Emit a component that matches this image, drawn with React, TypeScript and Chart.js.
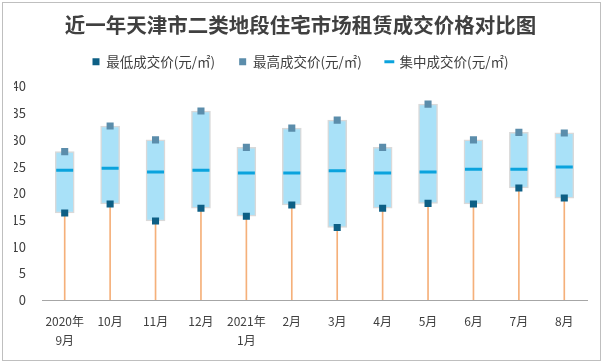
import React, { useEffect, useRef } from 'react';
import { Chart, registerables } from 'chart.js';

Chart.register(...registerables);

const categories: (string | string[])[] = [
  ['2020年', '9月'], '10月', '11月', '12月', ['2021年', '1月'], '2月', '3月', '4月', '5月', '6月', '7月', '8月',
];
const lowValues = [16.3, 18.0, 14.8, 17.2, 15.7, 17.8, 13.6, 17.2, 18.1, 18.0, 21.0, 19.1];
const highValues = [27.8, 32.6, 30.0, 35.4, 28.6, 32.2, 33.7, 28.6, 36.7, 30.0, 31.4, 31.3];
const midValues = [24.3, 24.7, 24.0, 24.3, 23.8, 23.8, 24.2, 23.8, 24.0, 24.5, 24.5, 24.9];
const yTicks = [0, 5, 10, 15, 20, 25, 30, 35, 40];

const seriesNames = ['最低成交价(元/㎡)', '最高成交价(元/㎡)', '集中成交价(元/㎡)'];
const titleText = '近一年天津市二类地段住宅市场租赁成交价格对比图';

const FONT = '"Noto Sans CJK SC", "Noto Sans", sans-serif';

const framePlugin = {
  id: 'frame',
  beforeDraw(chart: any) {
    const ctx = chart.ctx;
    ctx.save();
    ctx.fillStyle = '#ffffff';
    ctx.fillRect(0, 0, chart.width, chart.height);
    ctx.strokeStyle = '#bfbfbf';
    ctx.lineWidth = 1;
    ctx.strokeRect(2.5, 2.5, chart.width - 5, chart.height - 5);
    ctx.restore();
  },
};

export default function App() {
  const ref = useRef<HTMLCanvasElement>(null);
  useEffect(() => {
    document.body.style.margin = '0';
    const chart = new Chart(ref.current!, {
      type: 'bar',
      data: {
        labels: categories as any,
        datasets: [
          {
            type: 'line',
            label: seriesNames[0],
            data: lowValues,
            showLine: false,
            pointStyle: 'rect',
            pointRadius: 5,
            pointBorderWidth: 0,
            pointBackgroundColor: '#0d5f85',
            pointBorderColor: '#0d5f85',
            backgroundColor: '#0d5f85',
            borderColor: '#0d5f85',
            order: 0,
          } as any,
          {
            type: 'line',
            label: seriesNames[1],
            data: highValues,
            showLine: false,
            pointStyle: 'rect',
            pointRadius: 5,
            pointBorderWidth: 0,
            pointBackgroundColor: '#5b8dab',
            pointBorderColor: '#5b8dab',
            backgroundColor: '#5b8dab',
            borderColor: '#5b8dab',
            order: 0,
          },
          {
            type: 'line',
            label: seriesNames[2],
            data: midValues,
            showLine: false,
            pointStyle: 'line',
            pointRadius: 8.5,
            pointBorderWidth: 3,
            pointBackgroundColor: '#0ba3dd',
            pointBorderColor: '#0ba3dd',
            backgroundColor: '#0ba3dd',
            borderColor: '#0ba3dd',
            order: 1,
          },
          {
            type: 'bar',
            label: 'range',
            data: lowValues.map((v, i) => [v, highValues[i]]),
            backgroundColor: '#a9e1f8',
            borderColor: '#d9d9d9',
            borderWidth: 1.5,
            borderSkipped: false,
            barThickness: 19,
            grouped: false,
            order: 2,
          } as any,
          {
            type: 'bar',
            label: 'stem',
            data: lowValues.map((v) => [0, v]),
            backgroundColor: '#f5b07a',
            borderWidth: 0,
            barThickness: 1,
            grouped: false,
            order: 3,
          } as any,
        ],
      },
      options: {
        responsive: false,
        animation: false,
        events: [],
        layout: { padding: { left: 14, right: 16, top: 0, bottom: 0 } },
        plugins: {
          tooltip: { enabled: false },
          title: {
            display: true,
            text: titleText,
            color: '#404040',
            font: { family: FONT, size: 20.5, weight: 'bold', lineHeight: 1.2 },
            padding: { top: 12.7, bottom: -6.3 },
          },
          legend: {
            display: true,
            position: 'top',
            labels: {
              filter: (item: any) => item.datasetIndex < 3,
              usePointStyle: true,
              boxWidth: 7,
              boxHeight: 7,
              padding: 24,
              color: '#404040',
              font: { family: FONT, size: 13.5 },
            },
          },
        },
        scales: {
          x: {
            offset: true,
            grid: { display: false, drawTicks: false },
            border: { display: true, color: '#a6a6a6', width: 1 },
            ticks: {
              color: '#404040',
              font: { family: FONT, size: 12, lineHeight: 1.6 },
              maxRotation: 0,
              autoSkip: false,
              padding: 12,
            },
            afterFit: (s: any) => { s.height = 63; },
          },
          y: {
            min: 0,
            max: 41.5,
            afterBuildTicks: (s: any) => { s.ticks = yTicks.map((v) => ({ value: v })); },
            grid: { display: false, drawTicks: false },
            border: { display: false },
            ticks: {
              color: '#404040',
              font: { family: FONT, size: 13 },
              padding: 16,
            },
            afterFit: (s: any) => { s.width = 28; },
          },
        },
      },
      plugins: [framePlugin],
    });
    return () => chart.destroy();
  }, []);
  return <canvas ref={ref} width={603} height={363} style={{ display: 'block' }} />;
}
